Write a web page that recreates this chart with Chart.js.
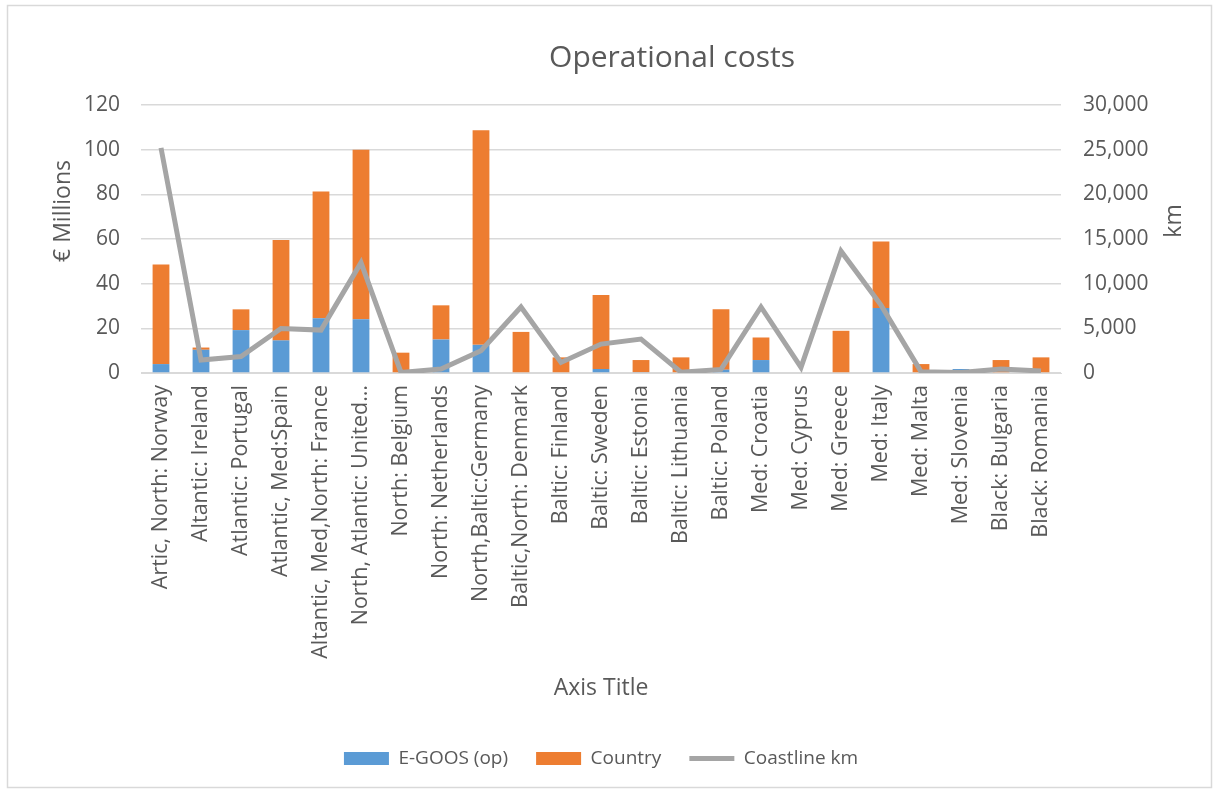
<!DOCTYPE html>
<html>
<head>
<meta charset="utf-8">
<script src="https://cdn.jsdelivr.net/npm/chart.js@4.4.1/dist/chart.umd.min.js"></script>
<style>
  html, body { margin: 0; padding: 0; background: #fff; }
</style>
</head>
<body>
<canvas id="myChart" width="1220" height="794"></canvas>
<script>
const countries = [
  'Artic, North: Norway', 'Altantic: Ireland', 'Atlantic: Portugal', 'Atlantic, Med:Spain',
  'Altantic, Med,North: France', 'North, Atlantic: United…', 'North: Belgium', 'North: Netherlands',
  'North,Baltic:Germany', 'Baltic,North: Denmark', 'Baltic: Finland', 'Baltic: Sweden',
  'Baltic: Estonia', 'Baltic: Lithuania', 'Baltic: Poland', 'Med: Croatia', 'Med: Cyprus',
  'Med: Greece', 'Med: Italy', 'Med: Malta', 'Med: Slovenia', 'Black: Bulgaria', 'Black: Romania'
];
const egoosOp = [4.0, 10.4, 19.2, 14.6, 24.5, 24.1, 0, 15.0, 12.6, 0, 0, 1.8, 0.4, 0, 1.5, 5.8, 0, 0, 29.1, 0, 1.8, 0, 0];
const country = [44.6, 1.0, 9.3, 44.9, 56.8, 75.9, 9.1, 15.3, 96.1, 18.4, 7.0, 33.1, 5.4, 7.0, 27.0, 10.1, 0, 18.9, 29.8, 4.0, 0, 5.8, 7.0];
const coastlineKm = [25200, 1450, 1850, 4975, 4800, 12350, 70, 450, 2490, 7390, 1180, 3235, 3790, 90, 400, 7390, 625, 13640, 7600, 150, 50, 440, 225];
const costTicks = [0, 20, 40, 60, 80, 100, 120];
const kmTicks = [0, 5000, 10000, 15000, 20000, 25000, 30000];

const txt = '#595959';
const grid = '#d9d9d9';
const fontFam = '"Open Sans", sans-serif';

// chart title, axis titles and frame, placed the way Excel put them
const extras = {
  id: 'extras',
  afterDraw(chart) {
    const c = chart.ctx;
    c.save();
    c.strokeStyle = '#d9d9d9';
    c.lineWidth = 1.5;
    c.strokeRect(7.5, 5.5, 1204, 782);
    c.fillStyle = txt;
    c.textAlign = 'center';
    c.textBaseline = 'alphabetic';
    c.font = '30px ' + fontFam;
    c.fillText('Operational costs', 672, 67);
    c.font = '23px ' + fontFam;
    c.fillText('Axis Title', 601, 695);
    c.textBaseline = 'middle';
    c.translate(63, 211);
    c.rotate(-Math.PI / 2);
    c.fillText('€ Millions', 0, 0);
    c.restore();
    c.save();
    c.fillStyle = txt;
    c.textAlign = 'center';
    c.textBaseline = 'middle';
    c.font = '23px ' + fontFam;
    c.translate(1174, 221);
    c.rotate(-Math.PI / 2);
    c.fillText('km', 0, 0);
    c.restore();
  }
};

new Chart(document.getElementById('myChart'), {
  type: 'bar',
  data: {
    labels: countries,
    datasets: [
      {
        label: 'E-GOOS (op)',
        data: egoosOp,
        backgroundColor: '#5b9bd5',
        yAxisID: 'y',
        pointStyle: 'rect',
        categoryPercentage: 1,
        barPercentage: 0.42,
        order: 1
      },
      {
        label: 'Country',
        data: country,
        backgroundColor: '#ed7d31',
        yAxisID: 'y',
        pointStyle: 'rect',
        categoryPercentage: 1,
        barPercentage: 0.42,
        order: 1
      },
      {
        label: 'Coastline km',
        type: 'line',
        data: coastlineKm,
        borderColor: '#a5a5a5',
        backgroundColor: '#a5a5a5',
        borderWidth: 5,
        pointRadius: 0,
        pointStyle: 'line',
        yAxisID: 'y1',
        order: 0
      }
    ]
  },
  plugins: [extras],
  options: {
    responsive: false,
    animation: false,
    devicePixelRatio: 1,
    layout: { padding: { left: 40, right: 25, top: 105, bottom: 16 } },
    plugins: {
      title: { display: false },
      legend: {
        position: 'bottom',
        fullSize: false,
        labels: {
          usePointStyle: true,
          pointStyleWidth: 45,
          boxHeight: 13,
          color: txt,
          padding: 28,
          font: { family: fontFam, size: 19 },
          sort: (a, b) => a.datasetIndex - b.datasetIndex
        }
      },
      tooltip: { enabled: false }
    },
    scales: {
      x: {
        stacked: true,
        grid: { display: false },
        border: { color: grid },
        ticks: {
          color: txt,
          font: { family: fontFam, size: 21.5 },
          maxRotation: 90,
          minRotation: 90,
          autoSkip: false,
          padding: 4
        },
        afterFit(scale) { scale.height = 348; }
      },
      y: {
        stacked: true,
        min: 0,
        max: 120,
        afterBuildTicks(scale) { scale.ticks = costTicks.map(v => ({ value: v })); },
        grid: { color: grid, lineWidth: 1.5, drawTicks: false },
        border: { display: false },
        ticks: { color: txt, font: { family: fontFam, size: 21 }, padding: 21 },
        afterFit(scale) { scale.width = 101; }
      },
      y1: {
        position: 'right',
        min: 0,
        max: 30000,
        afterBuildTicks(scale) { scale.ticks = kmTicks.map(v => ({ value: v })); },
        grid: { display: false, drawTicks: false },
        border: { display: false },
        ticks: {
          color: txt,
          font: { family: fontFam, size: 21 },
          padding: 22,
          callback: v => v.toLocaleString('en-US')
        },
        afterFit(scale) { scale.width = 134; }
      }
    }
  }
});
</script>
</body>
</html>
